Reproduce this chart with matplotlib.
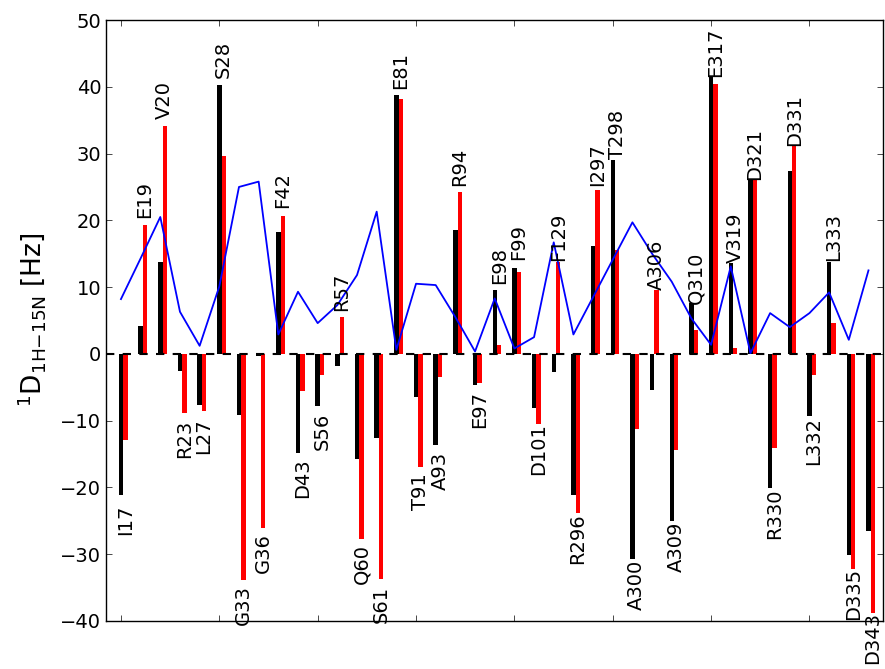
import numpy as np
import matplotlib
matplotlib.use("Agg")
import matplotlib.pyplot as plt

# residue labels and the two couplings per residue (Hz)
residues = ["I17", "E19", "V20", "R23", "L27", "S28", "G33", "G36", "F42", "D43",
            "S56", "R57", "Q60", "S61", "E81", "T91", "A93", "R94", "E97", "E98",
            "F99", "D101", "F129", "R296", "I297", "T298", "A300", "A306", "A309",
            "Q310", "E317", "V319", "D321", "R330", "D331", "L332", "L333", "D335",
            "D343"]
d_black = [-21.1, 4.2, 13.7, -2.5, -7.7, 40.3, -9.1, -0.3, 18.3, -14.9,
           -7.8, -1.8, -15.8, -12.6, 38.7, -6.4, -13.7, 18.5, -4.6, 9.5,
           12.9, -8.1, -2.7, -21.1, 16.1, 29.1, -30.8, -5.4, -25.1,
           7.6, 41.4, 13.6, 26.1, -20.1, 27.4, -9.3, 13.7, -30.2,
           -26.5]
d_red = [-12.9, 19.3, 34.2, -8.9, -8.6, 29.7, -33.9, -26.1, 20.7, -5.6,
         -3.2, 5.5, -27.7, -33.7, 38.2, -16.9, -3.5, 24.2, -4.3, 1.3,
         12.3, -10.5, 13.8, -23.9, 24.5, 15.6, -11.3, 9.6, -14.4,
         3.6, 40.4, 0.8, 26.1, -14.1, 31.3, -3.2, 4.6, -32.2,
         -38.8]
# |difference| trace
d_diff = [8.2, 14.3, 20.5, 6.3, 1.2, 10.1, 25.0, 25.8, 2.9, 9.3,
          4.6, 7.3, 11.8, 21.3, 0.6, 10.5, 10.3, 5.5, 0.35, 8.3,
          0.8, 2.5, 16.7, 2.9, 8.5, 14.1, 19.7, 15.0, 10.8,
          5.3, 1.35, 13.1, 0.1, 6.1, 4.0, 6.1, 9.2, 2.1,
          12.5]

W = 0.45          # bar width
LBL_OFF = 3.8     # label centre offset from bar end (Hz)

x = np.arange(len(residues)) * 2.0
b = np.array(d_black)
r = np.array(d_red)

fig = plt.figure(figsize=(8.85, 6.69), dpi=100)
ax = fig.add_axes([0.12, 0.072, 0.878, 0.898])

ax.bar(x, b, W, color="k", lw=0)
ax.bar(x + W, r, W, color="r", lw=0)
ax.plot(x, d_diff, color="b", lw=1.3)
ax.axhline(0, color="k", lw=1.5, ls=(0, (4, 4)))

for xi, bi, ri, name in zip(x, b, r, residues):
    if bi + ri > 0:
        y = max(bi, ri) + LBL_OFF
    else:
        y = min(bi, ri) - LBL_OFF
    ax.text(xi + W, y, name, rotation=90, ha="center", va="center", fontsize=14)

ax.set_xlim(-1.5, 77.5)
ax.set_ylim(-40, 50)
ax.set_xticks(np.arange(0, 71, 10))
ax.set_xticklabels([])
ax.set_yticks(np.arange(-40, 51, 10))
ax.tick_params(direction="in", length=4, width=0.5, top=True, right=True,
               labelsize=14)
for s in ax.spines.values():
    s.set_linewidth(1.0)
ax.set_ylabel(r"$^{1}\mathrm{D}_{\mathrm{1H{-}15N}}$ [Hz]", fontsize=19,
              labelpad=9)

fig.savefig("out.png")
